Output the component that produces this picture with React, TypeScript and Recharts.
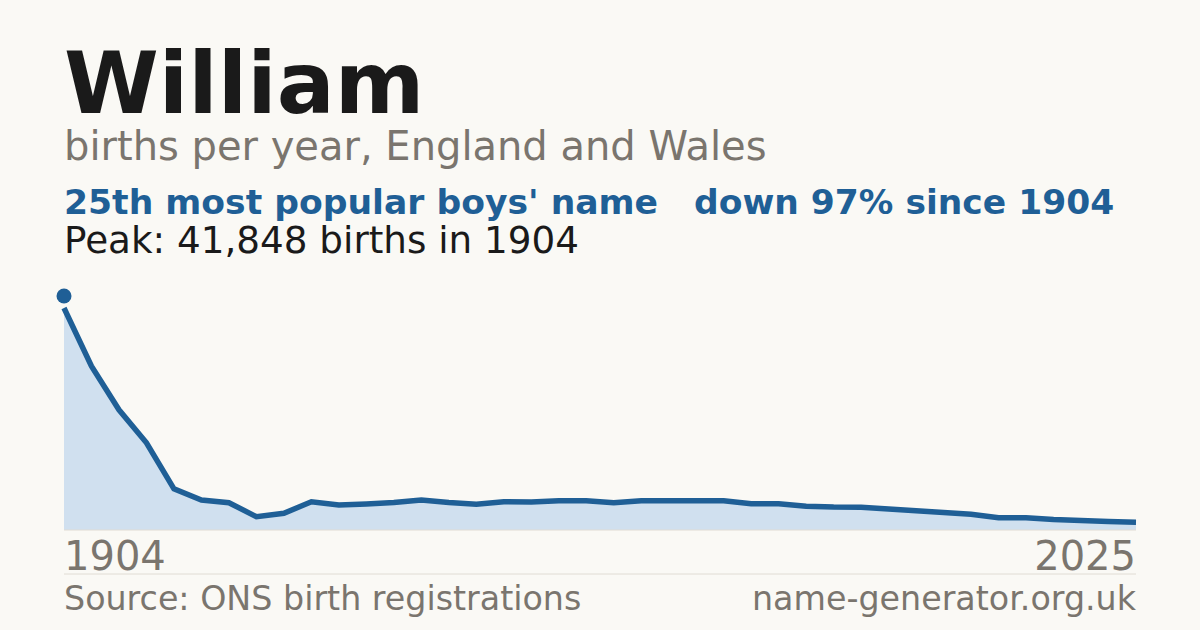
import React from 'react';
import { AreaChart, Area, XAxis, YAxis, ReferenceDot } from 'recharts';

const years = [
  1904, 1907, 1910, 1913, 1916, 1919, 1923, 1926, 1929, 1932,
  1935, 1938, 1941, 1944, 1947, 1950, 1954, 1957, 1960, 1963,
  1966, 1969, 1972, 1975, 1978, 1981, 1985, 1988, 1991, 1994,
  1997, 2000, 2003, 2006, 2009, 2012, 2016, 2019, 2022, 2025,
];

const births = [
  39700, 29300, 21500, 15600, 7350, 5350, 4880, 2380, 2990, 5060,
  4470, 4650, 4920, 5360, 4920, 4600, 5060, 5010, 5240, 5240,
  4880, 5240, 5240, 5240, 5240, 4700, 4700, 4250, 4110, 4080,
  3750, 3430, 3130, 2830, 2180, 2180, 1880, 1700, 1520, 1400,
];

const peakYear = 1904;
const peakValue = 41848;
const tickYears = [1904, 2025];

const data = years.map((y, i) => ({ year: y, births: births[i] }));

const FONT = '"DejaVu Sans", Verdana, sans-serif';
const BG = '#faf9f5';
const GRAY = '#7a756e';
const BLUE = '#1f5f96';
const DARK = '#1a1a1a';
const RULE = '#e0dcd4';

const YearTick = (props: any) => {
  const { x, payload } = props;
  const v = Number(payload.value);
  if (!tickYears.includes(v)) return null;
  const first = v === tickYears[0];
  return (
    <text
      x={x}
      y={570}
      textAnchor={first ? 'start' : 'end'}
      fontFamily={FONT}
      fontSize={40}
      fill={GRAY}
    >
      {v}
    </text>
  );
};

export default function App() {
  return (
    <div
      style={{
        position: 'absolute',
        left: 0,
        top: 0,
        width: 1200,
        height: 630,
        background: BG,
        overflow: 'hidden',
      }}
    >
      <svg
        width={1200}
        height={630}
        style={{ position: 'absolute', left: 0, top: 0 }}
      >
        <text x={64} y={113} fontFamily={FONT} fontSize={86} fontWeight="bold" fill={DARK}>
          William
        </text>
        <text x={64} y={160} fontFamily={FONT} fontSize={40} fill={GRAY}>
          births per year, England and Wales
        </text>
        <text x={64} y={214} fontFamily={FONT} fontSize={34.6} fontWeight="bold" fill={BLUE}>
          25th most popular boys' name
        </text>
        <text x={694} y={214} fontFamily={FONT} fontSize={34.5} fontWeight="bold" fill={BLUE}>
          down 97% since 1904
        </text>
        <text x={64} y={253} fontFamily={FONT} fontSize={37.3} fill={DARK}>
          Peak: 41,848 births in 1904
        </text>
        <line x1={64} x2={1136} y1={574} y2={574} stroke={RULE} strokeWidth={1} />
        <text x={64} y={610} fontFamily={FONT} fontSize={33.3} fill={GRAY}>
          Source: ONS birth registrations
        </text>
        <text x={1136} y={610} textAnchor="end" fontFamily={FONT} fontSize={33.3} fill={GRAY}>
          name-generator.org.uk
        </text>
      </svg>
      <div style={{ position: 'absolute', left: 0, top: 0 }}>
        <AreaChart
          width={1200}
          height={630}
          data={data}
          margin={{ top: 296, right: 64, bottom: 60, left: 64 }}
        >
          <XAxis
            dataKey="year"
            type="category"
            height={40}
            interval={0}
            tickLine={false}
            tickSize={0}
            tickMargin={0}
            axisLine={{ stroke: RULE, strokeWidth: 1 }}
            tick={<YearTick />}
          />
          <YAxis hide domain={[0, peakValue]} />
          <Area
            type="linear"
            dataKey="births"
            stroke={BLUE}
            strokeWidth={5.5}
            fill="#d0e0ef"
            fillOpacity={1}
            isAnimationActive={false}
            dot={false}
            activeDot={false}
          />
          <ReferenceDot
            x={peakYear}
            y={peakValue}
            r={7.5}
            fill={BLUE}
            stroke="none"
          />
        </AreaChart>
      </div>
    </div>
  );
}
